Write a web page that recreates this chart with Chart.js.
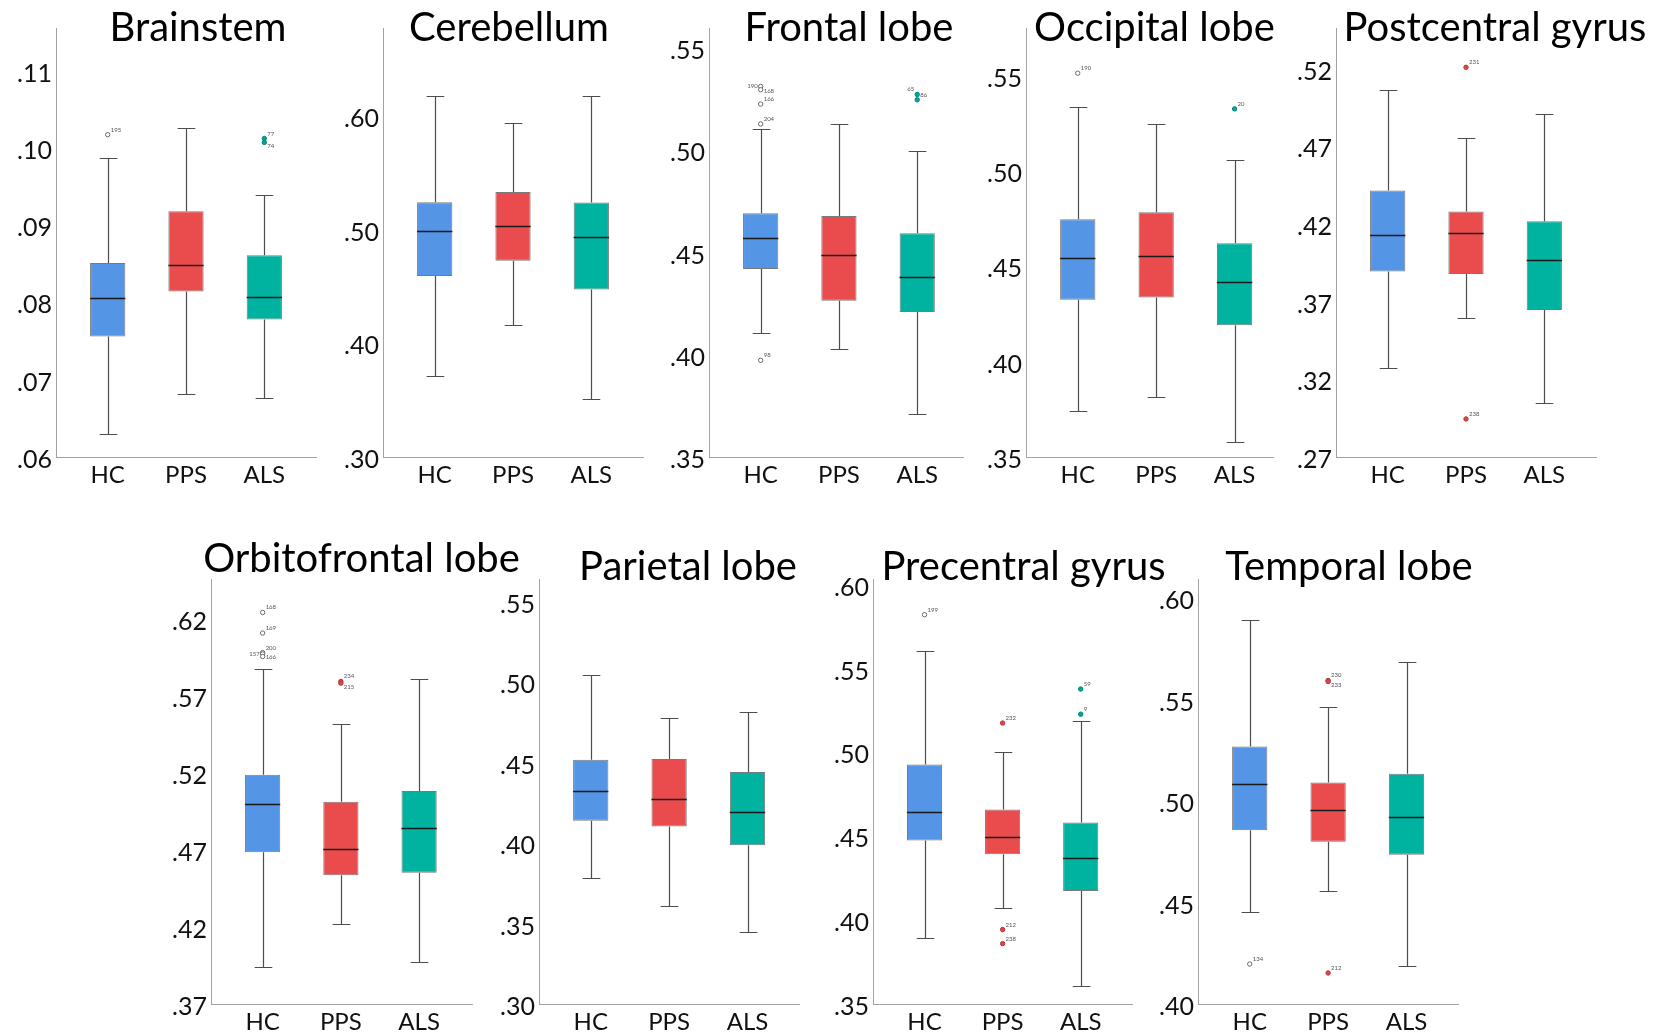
<!DOCTYPE html>
<html>
<head>
<meta charset="utf-8">
<title>Regional values by group</title>
<script src="https://cdn.jsdelivr.net/npm/chart.js@4.4.0/dist/chart.umd.min.js"></script>
<style>
  html, body { margin: 0; padding: 0; background: #ffffff; }
  body { position: relative; width: 1661px; height: 1036px; overflow: hidden; }
  canvas { position: absolute; }
</style>
</head>
<body>
<script>
// ---- data -------------------------------------------------------------
const groups = ['HC', 'PPS', 'ALS'];

// per group: [lower whisker, Q1, median, Q3, upper whisker]
const brainstemStats = [
  [0.0630, 0.0756, 0.0806, 0.0851, 0.0987],
  [0.0681, 0.0814, 0.0849, 0.0918, 0.1026],
  [0.0676, 0.0778, 0.0807, 0.0861, 0.0939]
];
// outliers: [group index, value, case id]
const brainstemOutliers = [[0, 0.1017, '195'], [2, 0.1012, '77'], [2, 0.1007, '74']];
const brainstemTicks = [0.06, 0.07, 0.08, 0.09, 0.10, 0.11];

const cerebellumStats = [
  [0.3713, 0.4591, 0.4987, 0.5240, 0.6170],
  [0.4159, 0.4726, 0.5034, 0.5330, 0.5935],
  [0.3508, 0.4473, 0.4934, 0.5237, 0.6173]
];
const cerebellumOutliers = [];
const cerebellumTicks = [0.30, 0.40, 0.50, 0.60];

const frontalStats = [
  [0.4104, 0.4419, 0.4571, 0.4692, 0.5105],
  [0.4029, 0.4264, 0.4489, 0.4679, 0.5128],
  [0.3712, 0.4209, 0.4380, 0.4594, 0.4997]
];
const frontalOutliers = [
  [0, 0.5312, '190'], [0, 0.5296, '168'], [0, 0.5226, '166'], [0, 0.5129, '204'], [0, 0.3973, '98'],
  [2, 0.5273, '65'], [2, 0.5247, '86']
];
const frontalTicks = [0.35, 0.40, 0.45, 0.50, 0.55];

const occipitalStats = [
  [0.3741, 0.4324, 0.4541, 0.4746, 0.5336],
  [0.3815, 0.4336, 0.4552, 0.4783, 0.5248],
  [0.3579, 0.4191, 0.4419, 0.4620, 0.5059]
];
const occipitalOutliers = [[0, 0.5512, '190'], [2, 0.5325, '20']];
const occipitalTicks = [0.35, 0.40, 0.45, 0.50, 0.55];

const postcentralStats = [
  [0.3272, 0.3895, 0.4127, 0.4415, 0.5062],
  [0.3592, 0.3878, 0.4140, 0.4280, 0.4753],
  [0.3048, 0.3646, 0.3968, 0.4218, 0.4908]
];
const postcentralOutliers = [[1, 0.5209, '231'], [1, 0.2945, '238']];
const postcentralTicks = [0.27, 0.32, 0.37, 0.42, 0.47, 0.52];

const orbitofrontalStats = [
  [0.3942, 0.4685, 0.4999, 0.5187, 0.5875],
  [0.4222, 0.4535, 0.4706, 0.5012, 0.5516],
  [0.3971, 0.4551, 0.4841, 0.5083, 0.5808]
];
const orbitofrontalOutliers = [
  [0, 0.6241, '168'], [0, 0.6107, '169'], [0, 0.5980, '200'], [0, 0.5972, '157'], [0, 0.5955, '166'],
  [1, 0.5793, '234'], [1, 0.5782, '215']
];
const orbitofrontalTicks = [0.37, 0.42, 0.47, 0.52, 0.57, 0.62];

const parietalStats = [
  [0.3786, 0.4139, 0.4326, 0.4519, 0.5048],
  [0.3608, 0.4104, 0.4272, 0.4523, 0.4780],
  [0.3446, 0.3988, 0.4193, 0.4442, 0.4813]
];
const parietalOutliers = [];
const parietalTicks = [0.30, 0.35, 0.40, 0.45, 0.50, 0.55];

const precentralStats = [
  [0.3892, 0.4475, 0.4644, 0.4928, 0.5602],
  [0.4075, 0.4393, 0.4498, 0.4660, 0.5000],
  [0.3605, 0.4174, 0.4369, 0.4582, 0.5189]
];
const precentralOutliers = [
  [0, 0.5821, '199'], [1, 0.5175, '232'], [1, 0.3944, '212'], [1, 0.3860, '238'],
  [2, 0.5378, '59'], [2, 0.5228, '9']
];
const precentralTicks = [0.35, 0.40, 0.45, 0.50, 0.55, 0.60];

const temporalStats = [
  [0.4452, 0.4856, 0.5083, 0.5269, 0.5890],
  [0.4555, 0.4799, 0.4955, 0.5091, 0.5461],
  [0.4189, 0.4735, 0.4920, 0.5134, 0.5685]
];
const temporalOutliers = [[0, 0.4197, '134'], [1, 0.5594, '230'], [1, 0.5589, '233'], [1, 0.4153, '212']];
const temporalTicks = [0.40, 0.45, 0.50, 0.55, 0.60];

// ---- appearance ---------------------------------------------------------
const boxFill = ['#5595e5', '#ea4b4c', '#00b3a0'];
const outlierFill = ['#ffffff', '#e0474a', '#00a896'];
const outlierEdge = ['#6a6a6a', '#b53638', '#00857a'];
const FONT = 'Lato, "Open Sans", sans-serif';

// plot rectangle on the page, axis ranges and title placement for each region
const panels = [
  { title: 'Brainstem', stats: brainstemStats, outliers: brainstemOutliers, ticks: brainstemTicks,
    yMin: 0.06, yMax: 0.1155, rect: [56, 28, 316, 457], xMax: 2.66, titleDx: 12, titleY: 13,
    place: { '74': 'below' } },
  { title: 'Cerebellum', stats: cerebellumStats, outliers: cerebellumOutliers, ticks: cerebellumTicks,
    yMin: 0.30, yMax: 0.6772, rect: [383, 28, 643, 457], xMax: 2.66, titleDx: -4, titleY: 13, place: {} },
  { title: 'Frontal lobe', stats: frontalStats, outliers: frontalOutliers, ticks: frontalTicks,
    yMin: 0.35, yMax: 0.5598, rect: [709, 28, 963, 457], xMax: 2.585, titleDx: 13, titleY: 13,
    place: { '190': 'left', '168': 'right', '65': 'leftAbove' } },
  { title: 'Occipital lobe', stats: occipitalStats, outliers: occipitalOutliers, ticks: occipitalTicks,
    yMin: 0.35, yMax: 0.5749, rect: [1026, 28, 1273, 457], xMax: 2.49, titleDx: 5, titleY: 13, place: {} },
  { title: 'Postcentral gyrus', stats: postcentralStats, outliers: postcentralOutliers, ticks: postcentralTicks,
    yMin: 0.27, yMax: 0.5462, rect: [1336, 28, 1596, 457], xMax: 2.66, titleDx: 29, titleY: 13, place: {} },
  { title: 'Orbitofrontal lobe', stats: orbitofrontalStats, outliers: orbitofrontalOutliers, ticks: orbitofrontalTicks,
    yMin: 0.37, yMax: 0.6458, rect: [211, 579, 472, 1004], xMax: 2.676, titleDx: 20, titleY: -7,
    place: { '157': 'left', '166': 'right', '215': 'below' } },
  { title: 'Parietal lobe', stats: parietalStats, outliers: parietalOutliers, ticks: parietalTicks,
    yMin: 0.30, yMax: 0.5643, rect: [539, 579, 799, 1004], xMax: 2.657, titleDx: 19, titleY: 1, place: {} },
  { title: 'Precentral gyrus', stats: precentralStats, outliers: precentralOutliers, ticks: precentralTicks,
    yMin: 0.35, yMax: 0.6034, rect: [873, 579, 1132, 1004], xMax: 2.657, titleDx: 21, titleY: 1, place: {} },
  { title: 'Temporal lobe', stats: temporalStats, outliers: temporalOutliers, ticks: temporalTicks,
    yMin: 0.40, yMax: 0.6094, rect: [1198, 579, 1458, 1004], xMax: 2.657, titleDx: 21, titleY: 1,
    place: { '233': 'below' } }
];

const PAD_L = 70, PAD_T = 75, PAD_R = 80, PAD_B = 45;

function fmtTick(v) {
  return '.' + Number(v).toFixed(2).split('.')[1];
}

// whiskers, caps, medians, outlier case labels and the panel title
function boxPlotPlugin(p) {
  return {
    id: 'boxPlot',
    beforeDatasetsDraw(chart) {
      const { ctx, scales: { y } } = chart;
      const bars = chart.getDatasetMeta(0).data;
      ctx.save();
      ctx.strokeStyle = '#4d4d4d';
      ctx.lineWidth = 1.2;
      p.stats.forEach((s, i) => {
        const bar = bars[i];
        const x = Math.round(bar.x) + 0.5;
        const half = bar.width / 4;
        const yLow = Math.round(y.getPixelForValue(s[0])) + 0.5;
        const yQ1 = y.getPixelForValue(s[1]);
        const yQ3 = y.getPixelForValue(s[3]);
        const yHigh = Math.round(y.getPixelForValue(s[4])) + 0.5;
        ctx.beginPath();
        ctx.moveTo(x, yLow); ctx.lineTo(x, yQ1);
        ctx.moveTo(x, yQ3); ctx.lineTo(x, yHigh);
        ctx.moveTo(x - half, yLow); ctx.lineTo(x + half, yLow);
        ctx.moveTo(x - half, yHigh); ctx.lineTo(x + half, yHigh);
        ctx.stroke();
      });
      ctx.restore();
    },
    afterDatasetsDraw(chart) {
      const { ctx, scales: { x, y } } = chart;
      const bars = chart.getDatasetMeta(0).data;
      ctx.save();
      ctx.strokeStyle = '#1a1a1a';
      ctx.lineWidth = 1.5;
      p.stats.forEach((s, i) => {
        const bar = bars[i];
        const ym = Math.round(y.getPixelForValue(s[2])) + 0.5;
        ctx.beginPath();
        ctx.moveTo(bar.x - bar.width / 2, ym);
        ctx.lineTo(bar.x + bar.width / 2, ym);
        ctx.stroke();
      });
      ctx.fillStyle = '#555555';
      ctx.font = '6px ' + FONT;
      p.outliers.forEach(o => {
        const px = x.getPixelForValue(o[0]);
        const py = y.getPixelForValue(o[1]);
        const where = p.place[o[2]] || 'above';
        if (where === 'left') {
          ctx.textAlign = 'right'; ctx.textBaseline = 'middle';
          ctx.fillText(o[2], px - 3, py);
        } else if (where === 'leftAbove') {
          ctx.textAlign = 'right'; ctx.textBaseline = 'alphabetic';
          ctx.fillText(o[2], px - 3, py - 3);
        } else if (where === 'right') {
          ctx.textAlign = 'left'; ctx.textBaseline = 'middle';
          ctx.fillText(o[2], px + 3, py + 1);
        } else if (where === 'below') {
          ctx.textAlign = 'left'; ctx.textBaseline = 'top';
          ctx.fillText(o[2], px + 3, py + 1);
        } else {
          ctx.textAlign = 'left'; ctx.textBaseline = 'alphabetic';
          ctx.fillText(o[2], px + 3, py - 3);
        }
      });
      ctx.restore();
    },
    afterDraw(chart) {
      const { ctx, chartArea } = chart;
      ctx.save();
      ctx.fillStyle = '#000000';
      ctx.font = '40px ' + FONT;
      ctx.textAlign = 'center';
      ctx.textBaseline = 'alphabetic';
      ctx.fillText(p.title, (chartArea.left + chartArea.right) / 2 + p.titleDx, chartArea.top + p.titleY);
      ctx.restore();
    }
  };
}

Chart.defaults.font.family = FONT;

panels.forEach(p => {
  const [l, t, r, b] = p.rect;
  const w = (r - l) + PAD_L + PAD_R;
  const h = (b - t) + PAD_T + PAD_B;
  const canvas = document.createElement('canvas');
  canvas.width = w; canvas.height = h;
  canvas.style.width = w + 'px'; canvas.style.height = h + 'px';
  canvas.style.left = (l - PAD_L) + 'px';
  canvas.style.top = (t - PAD_T) + 'px';
  document.body.appendChild(canvas);

  const axisLine = { display: true, color: '#a3a3a3', width: 1 };
  const noGrid = { display: true, drawOnChartArea: false, drawTicks: false, color: 'rgba(0,0,0,0)' };

  new Chart(canvas, {
    type: 'bar',
    data: {
      datasets: [
        {
          type: 'bar',
          data: p.stats.map((s, i) => ({ x: i, y: [s[1], s[3]] })),
          backgroundColor: boxFill,
          borderColor: '#7a7a7a',
          borderWidth: 1,
          borderSkipped: false,
          categoryPercentage: 1,
          barPercentage: 0.45,
          order: 2
        },
        {
          type: 'scatter',
          data: p.outliers.map(o => ({ x: o[0], y: o[1] })),
          pointRadius: 2.2,
          pointBorderWidth: 1,
          pointBackgroundColor: p.outliers.map(o => outlierFill[o[0]]),
          pointBorderColor: p.outliers.map(o => outlierEdge[o[0]]),
          order: 1
        }
      ]
    },
    options: {
      responsive: false,
      devicePixelRatio: 1,
      animation: false,
      events: [],
      layout: { padding: { left: 0, top: PAD_T, right: PAD_R, bottom: 0 } },
      plugins: { legend: { display: false }, tooltip: { enabled: false }, title: { display: false } },
      scales: {
        x: {
          type: 'linear',
          min: -0.66,
          max: p.xMax,
          offset: false,
          grid: noGrid,
          border: axisLine,
          ticks: {
            color: '#111111',
            font: { size: 24, family: FONT },
            padding: 4,
            maxRotation: 0,
            autoSkip: false,
            callback: v => groups[v] !== undefined ? groups[v] : ''
          },
          afterBuildTicks: s => { s.ticks = groups.map((g, i) => ({ value: i })); },
          afterFit: s => { s.height = PAD_B; }
        },
        y: {
          type: 'linear',
          min: p.yMin,
          max: p.yMax,
          bounds: 'data',
          grid: noGrid,
          border: axisLine,
          ticks: {
            color: '#111111',
            font: { size: 25, family: FONT },
            padding: 4,
            labelOffset: 3,
            autoSkip: false,
            callback: v => fmtTick(v)
          },
          afterBuildTicks: s => { s.ticks = p.ticks.map(v => ({ value: v })); },
          afterFit: s => { s.width = PAD_L; }
        }
      }
    },
    plugins: [boxPlotPlugin(p)]
  });
});
</script>
</body>
</html>
